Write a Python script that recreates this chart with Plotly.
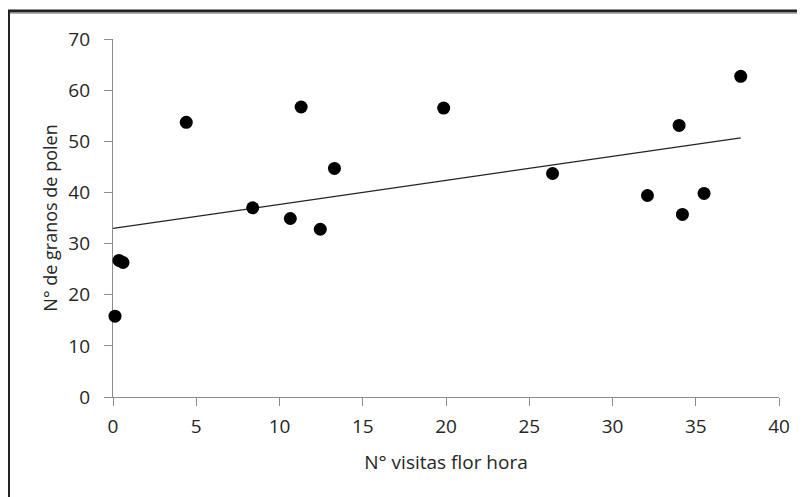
import numpy as np
import plotly.graph_objects as go

# Data
visitas = [0.12, 0.36, 0.6, 4.4, 8.39, 10.65, 11.3, 12.45, 13.3, 19.86,
           26.4, 32.1, 34.0, 34.2, 35.5, 37.7]
polen = [15.8, 26.7, 26.3, 53.7, 37.0, 34.9, 56.7, 32.8, 44.7, 56.5,
         43.7, 39.4, 53.1, 35.7, 39.8, 62.7]
x_ticks = [0, 5, 10, 15, 20, 25, 30, 35, 40]
y_ticks = [0, 10, 20, 30, 40, 50, 60, 70]

# Linear trendline (least squares over the data)
slope, intercept = np.polyfit(visitas, polen, 1)
trend_x = [min(visitas) - 0.12, max(visitas)]
trend_y = [intercept + slope * v for v in trend_x]

# page body has an 8px margin, so the figure is 8px smaller than the window
W, H = 797, 489
ML, MR, MT, MB = 105, 26, 31, 100
pw, ph = W - ML - MR, H - MT - MB

def fx(px):
    return (px - ML) / pw

def fy(py):
    return (H - MB - py) / ph

fig = go.Figure()
fig.add_trace(go.Scatter(x=trend_x, y=trend_y, mode="lines",
                         line=dict(color="#222222", width=1.3),
                         hoverinfo="skip", showlegend=False))
fig.add_trace(go.Scatter(x=visitas, y=polen, mode="markers",
                         marker=dict(color="#000000", size=13),
                         cliponaxis=False, showlegend=False))

font = "Open Sans, Calibri, sans-serif"
axis_common = dict(showgrid=False, zeroline=False, showline=True,
                   linecolor="#8c8c8c", linewidth=1.2,
                   ticks="outside", ticklen=8, tickcolor="#8c8c8c", tickwidth=1.2,
                   tickfont=dict(family=font, size=19, color="#262626"),
                   layer="below traces")

fig.update_layout(
    width=W, height=H,
    margin=dict(l=ML, r=MR, t=MT, b=MB),
    paper_bgcolor="white", plot_bgcolor="white",
    xaxis=dict(range=[0, 40], tickvals=x_ticks, ticklabelstandoff=4,
               title=dict(text="N° visitas flor hora", standoff=17,
                          font=dict(family=font, size=19, color="#262626")),
               **axis_common),
    yaxis=dict(range=[0, 70], tickvals=y_ticks, ticklabelstandoff=10,
               title=dict(text="N° de granos de polen", standoff=6,
                          font=dict(family=font, size=18, color="#262626")),
               **axis_common),
    shapes=[
        dict(type="rect", xref="paper", yref="paper",
             x0=fx(0.5), x1=fx(900), y0=fy(700), y1=fy(3),
             line=dict(color="#222222", width=3), layer="below"),
        dict(type="line", xref="paper", yref="paper",
             x0=fx(2), x1=fx(900), y0=fy(5.5), y1=fy(5.5),
             line=dict(color="#b0b0b0", width=1), layer="below"),
    ],
)

fig.write_html("out.html")
